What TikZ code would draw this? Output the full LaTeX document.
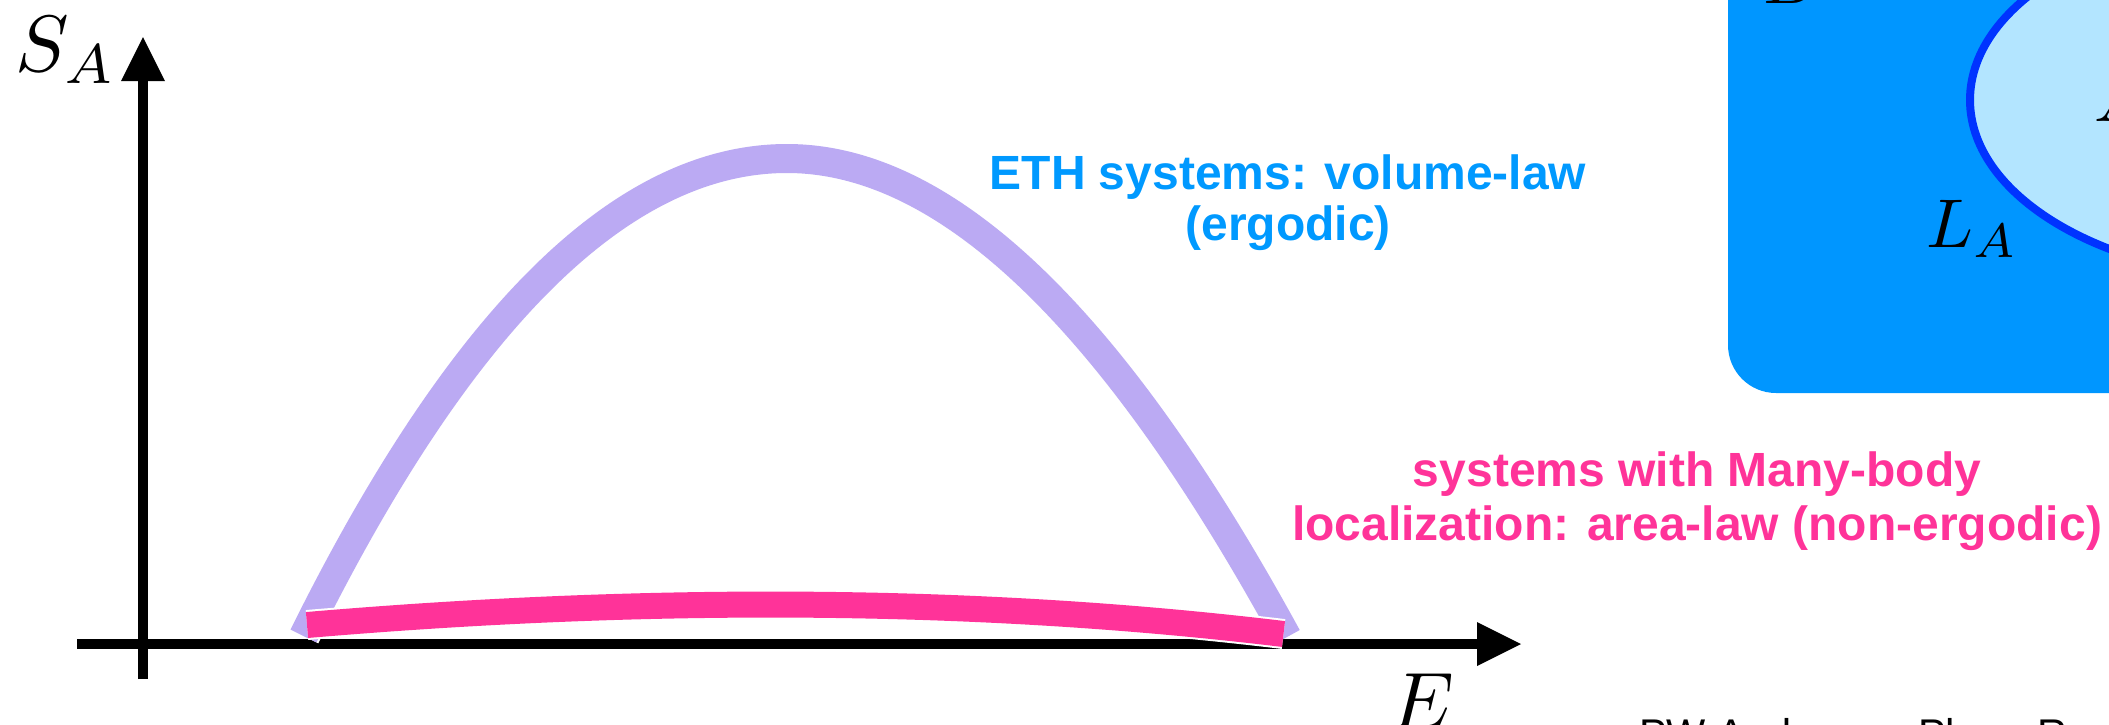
\documentclass[tikz,border=0pt]{standalone}
\usepackage{fontspec}
\setmainfont{Liberation Sans}
\usetikzlibrary{arrows.meta}
\definecolor{ethblue}{RGB}{0,153,255}
\definecolor{mblpink}{RGB}{255,51,153}
\definecolor{arcpurple}{RGB}{187,170,243}
\definecolor{boxblue}{RGB}{0,150,255}
\definecolor{ellfill}{RGB}{179,229,255}
\definecolor{ellline}{RGB}{0,51,255}
\begin{document}
\begin{tikzpicture}[x=1pt,y=-1pt,
  axisline/.style={line width=10pt,-{Triangle[length=44pt,width=44pt,line width=0pt]}},
  purplecurve/.style={draw=arcpurple,line width=29pt,preaction={draw=white,line width=33pt}},
  pinkcurve/.style={draw=mblpink,line width=26pt,preaction={draw=white,line width=30pt}},
  bigmath/.style={scale=8,inner sep=0pt},
  boxmath/.style={scale=6.9,inner sep=0pt},
  ethtext/.style={text=ethblue,font=\fontsize{48}{51}\selectfont\bfseries,align=center,inner sep=0pt},
  mbltext/.style={text=mblpink,font=\fontsize{48}{54}\selectfont\bfseries,align=center,inner sep=0pt},
  reftext/.style={font=\fontsize{41.5}{48}\selectfont,inner sep=0pt}]
\useasboundingbox (0,0) rectangle (2109,724);
% right panel: region B with subregion A
\fill[boxblue,rounded corners=48pt] (1728,-80) rectangle (2300,393);
\draw[ellline,fill=ellfill,line width=8pt] (2288,100) ellipse [x radius=318pt,y radius=180pt];
\node[boxmath,anchor=base west] (B) at (1762,3) {$B$};
\node[boxmath,anchor=base west] (A) at (2093,121) {$A$};
\node[boxmath,anchor=base west] (LA) at (1925,247) {$L_A$};
% axes
\coordinate (ybot) at (143,679);
\coordinate (ytip) at (143,37);
\coordinate (xleft) at (77,644);
\coordinate (xtip) at (1521,644);
\draw[axisline] (ybot) -- (ytip);
\draw[axisline] (xleft) -- (xtip);
\node[bigmath,anchor=base west] (SA) at (14,71) {$S_A$};
\node[bigmath,anchor=base west] (E) at (1389,728) {$E$};
% curves
\coordinate (pa) at (303.5,636);
\coordinate (pk) at (787,158.5);
\coordinate (pb) at (1287,637);
\draw[purplecurve] (pa) .. controls (461.2,317.7) and (622.3,158.5) .. (pk)
  .. controls (946,158.5) and (1112.7,318) .. (pb);
\coordinate (ma) at (307,625);
\coordinate (mb) at (1283.5,634);
\draw[pinkcurve] (ma) .. controls (659,595) and (984.5,598) .. (mb);
% labels
\node[ethtext,anchor=north] (eth) at (1288,154.5) {ETH systems: volume-law\\(ergodic)};
\node[mbltext,anchor=north] (mbl) at (1697,451.3) {systems with Many-body\\localization: area-law (non-ergodic)};
\node[reftext,anchor=base west] (ref) at (1639,748) {PW Anderson, Phys. Rev. 109, 1492 (1958)};
\end{tikzpicture}
\end{document}
